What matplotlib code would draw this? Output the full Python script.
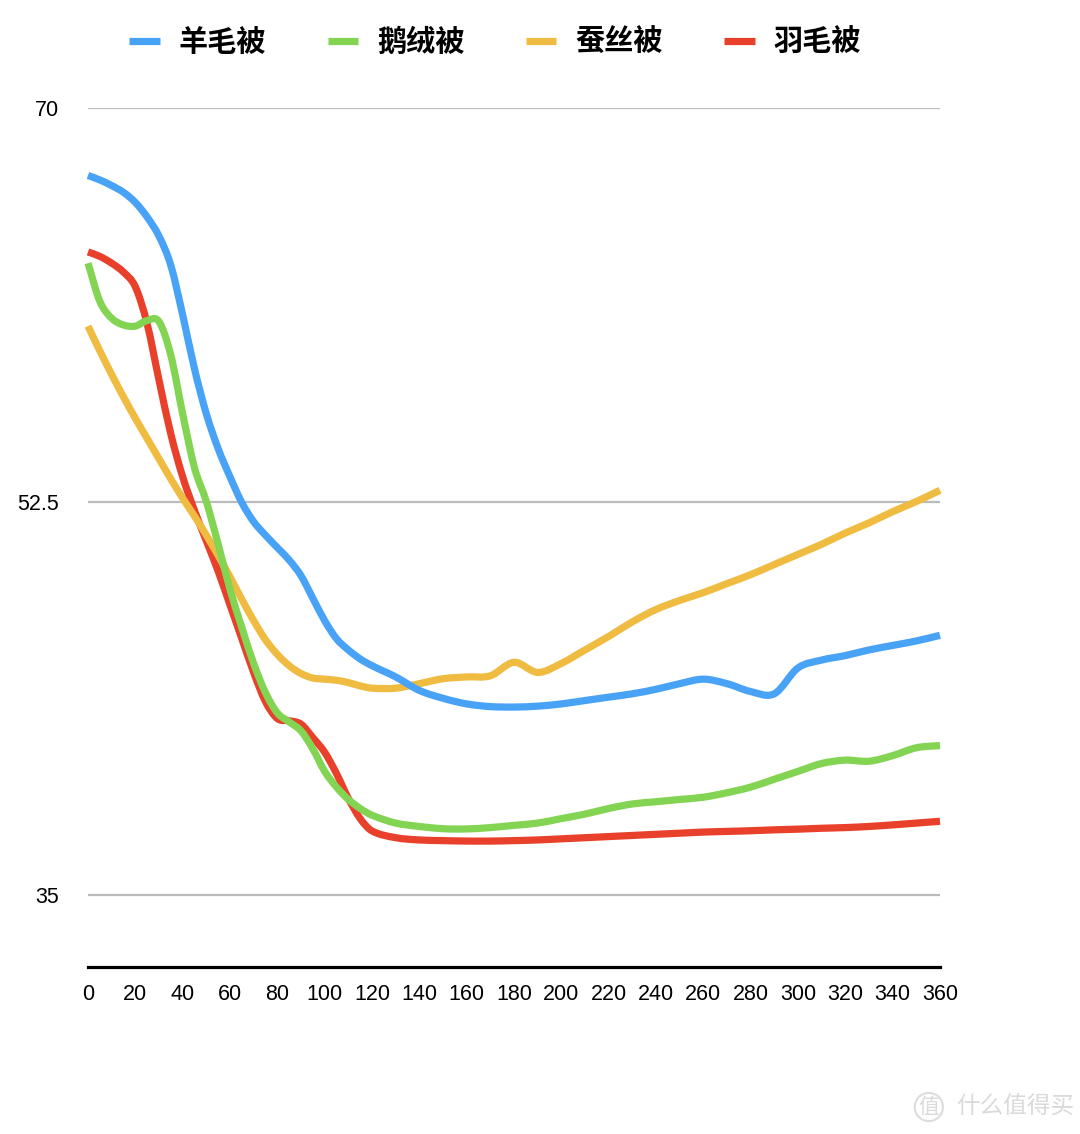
import matplotlib
matplotlib.use("Agg")
import matplotlib.pyplot as plt
from matplotlib.lines import Line2D
from matplotlib.path import Path
from matplotlib.patches import PathPatch

# ---- data ----
x = [0, 5, 10, 15, 20, 25, 30, 35, 40, 45, 50, 55, 60, 65, 70, 75, 80, 85, 90, 95,
     100, 105, 110, 115, 120, 130, 140, 150, 160, 170, 180, 190, 200, 210, 220, 230,
     240, 250, 260, 270, 280, 290, 300, 310, 320, 330, 340, 350, 360]

wool = [67.0, 66.8, 66.55, 66.25, 65.8, 65.15, 64.3, 63.0, 60.8, 58.4, 56.4, 54.85, 53.6,
        52.45, 51.6, 51.0, 50.45, 49.9, 49.2, 48.2, 47.2, 46.4, 45.9, 45.5, 45.2,
        44.7, 44.1, 43.75, 43.5, 43.38, 43.36, 43.4, 43.5, 43.65, 43.8, 43.95,
        44.15, 44.4, 44.6, 44.4, 44.05, 43.95, 45.1, 45.45, 45.65, 45.9, 46.1, 46.3, 46.55]

goose = [63.1, 61.4, 60.65, 60.35, 60.3, 60.55, 60.5, 59.0, 56.4, 54.0, 52.5, 50.6, 48.6,
         46.9, 45.3, 44.0, 43.1, 42.7, 42.3, 41.5, 40.5, 39.8, 39.25, 38.85, 38.55,
         38.2, 38.05, 37.95, 37.94, 38.0, 38.1, 38.2, 38.4, 38.6, 38.85, 39.05,
         39.15, 39.25, 39.35, 39.55, 39.8, 40.15, 40.5, 40.85, 41.0, 40.95, 41.2, 41.55, 41.65]

silk = [60.3, 59.2, 58.15, 57.15, 56.2, 55.3, 54.4, 53.5, 52.65, 51.85, 51.0, 50.1, 49.15,
        48.15, 47.2, 46.35, 45.7, 45.2, 44.85, 44.65, 44.6, 44.55, 44.45, 44.3, 44.2,
        44.2, 44.4, 44.62, 44.7, 44.75, 45.35, 44.9, 45.3, 45.9, 46.5, 47.15,
        47.7, 48.1, 48.45, 48.85, 49.25, 49.7, 50.15, 50.6, 51.1, 51.55, 52.05, 52.5, 53.0]

feather = [63.6, 63.4, 63.1, 62.7, 62.05, 60.4, 57.9, 55.5, 53.6, 52.1, 50.75, 49.4, 47.9,
           46.4, 44.9, 43.6, 42.85, 42.75, 42.6, 42.0, 41.35, 40.4, 39.3, 38.4, 37.85,
           37.55, 37.45, 37.42, 37.4, 37.4, 37.42, 37.45, 37.5, 37.55, 37.6, 37.65,
           37.7, 37.75, 37.8, 37.83, 37.86, 37.9, 37.93, 37.97, 38.0, 38.05, 38.12, 38.2, 38.28]

names = ["羊毛被", "鹅绒被", "蚕丝被", "羽毛被"]
colors = ["#48A2F6", "#83D452", "#EFBB41", "#E8402A"]
series = [wool, goose, silk, feather]
zorders = [6, 5, 4, 3]

yticks = [35, 52.5, 70]
ytick_labels = ["35", "52.5", "70"]
xticks = list(range(0, 361, 20))


def smooth_path(xs, ys):
    """Cubic Hermite curve through the data points, as Bezier path segments."""
    n = len(xs)
    m = []
    for i in range(n):
        if i == 0:
            m.append((ys[1] - ys[0]) / (xs[1] - xs[0]))
        elif i == n - 1:
            m.append((ys[-1] - ys[-2]) / (xs[-1] - xs[-2]))
        else:
            m.append((ys[i + 1] - ys[i - 1]) / (xs[i + 1] - xs[i - 1]))
    verts = [(xs[0], ys[0])]
    codes = [Path.MOVETO]
    for i in range(n - 1):
        h = xs[i + 1] - xs[i]
        verts += [(xs[i] + h / 3, ys[i] + m[i] * h / 3),
                  (xs[i + 1] - h / 3, ys[i + 1] - m[i + 1] * h / 3),
                  (xs[i + 1], ys[i + 1])]
        codes += [Path.CURVE4] * 3
    return Path(verts, codes)


# ---- figure ----
fig = plt.figure(figsize=(10.8, 11.34), dpi=100)
L, R = 88 / 1080, 940 / 1080
B, T = 1 - 967 / 1134, 1 - 108 / 1134
ax = fig.add_axes([L, B, R - L, T - B])

for s, c, z in zip(series, colors, zorders):
    patch = PathPatch(smooth_path(x, s), facecolor="none", edgecolor=c, lw=5.2,
                      capstyle="butt", joinstyle="round", zorder=z, clip_on=False)
    ax.add_patch(patch)

ax.set_xlim(0, 360)
ax.set_ylim(31.8, 70)
ax.set_yticks(yticks)
ax.set_yticklabels(ytick_labels)
ax.set_xticks(xticks)
ax.set_xticklabels([str(v) for v in xticks])

ax.yaxis.grid(True, color="#BBBBBB", lw=1.6)
ax.set_axisbelow(True)
for sp in ["top", "right", "left"]:
    ax.spines[sp].set_visible(False)
ax.spines["bottom"].set_color("black")
ax.spines["bottom"].set_linewidth(2.3)

ax.tick_params(axis="y", length=0, pad=21, labelsize=15.5)
ax.tick_params(axis="x", length=0, pad=12, labelsize=15.5)
for lab in ax.get_xticklabels() + ax.get_yticklabels():
    lab.set_fontfamily(["Liberation Sans Narrow", "Liberation Sans", "DejaVu Sans"])
    lab.set_color("black")

# legend
handles = [Line2D([0], [0], color=c, lw=5.2, solid_capstyle="butt") for c in colors]
fig.legend(handles, names, loc="center", bbox_to_anchor=(0.4585, 1 - 42 / 1134),
           ncol=4, frameon=False, handlelength=1.05, handletextpad=0.65,
           columnspacing=2.1,
           prop={"family": ["Noto Sans CJK SC", "DejaVu Sans"], "weight": "bold", "size": 21})

# watermark
fig.text(0.86, 1 - 1107 / 1134, "值", ha="center", va="center", color="#DADADA",
         fontsize=15, family=["Noto Sans CJK SC", "DejaVu Sans"],
         bbox=dict(boxstyle="circle,pad=0.15", fc="none", ec="#DDDDDD", lw=1.5))
fig.text(0.885, 1 - 1107 / 1134, "什么值得买", ha="left", va="center", color="#DADADA",
         fontsize=17, family=["Noto Sans CJK SC", "DejaVu Sans"])

fig.savefig("out.png", dpi=100, facecolor="white")
